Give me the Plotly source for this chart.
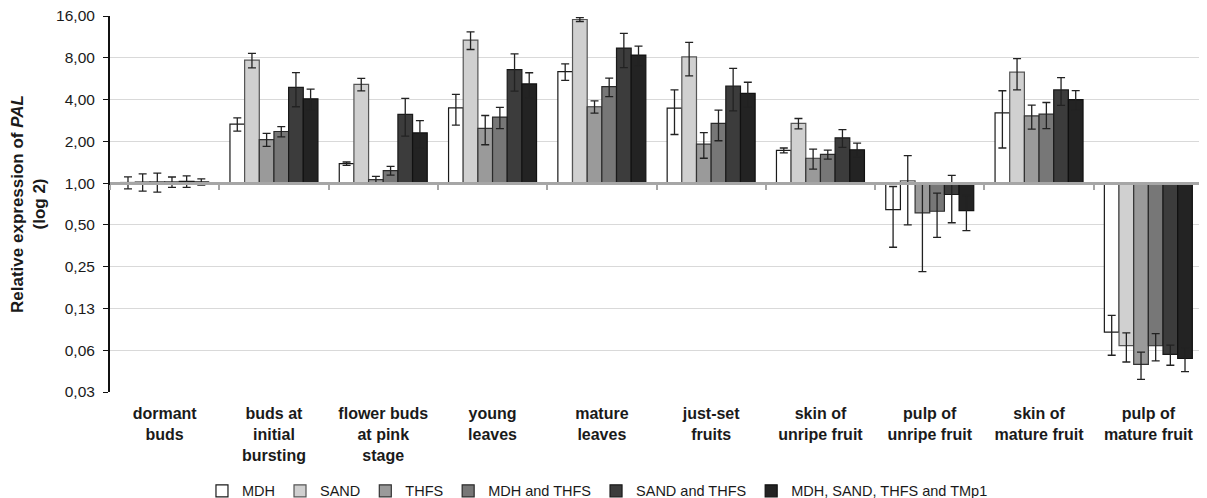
import plotly.graph_objects as go
import math

categories = ["dormant<br>buds", "buds at<br>initial<br>bursting", "flower buds<br>at pink<br>stage",
              "young<br>leaves", "mature<br>leaves", "just-set<br>fruits", "skin of<br>unripe fruit",
              "pulp of<br>unripe fruit", "skin of<br>mature fruit", "pulp of<br>mature fruit"]

series_names = ["MDH", "SAND", "THFS", "MDH and THFS", "SAND and THFS", "MDH, SAND, THFS and TMp1"]

mdh = [1.01, 2.66, 1.38, 3.49, 6.36, 3.47, 1.72, 0.645, 3.21, 0.0845]
mdh_err = [0.10, 0.29, 0.04, 0.87, 0.87, 1.23, 0.07, 0.30, 1.42, 0.027]
sand = [1.02, 7.69, 5.15, 10.73, 15.1, 8.12, 2.69, 1.04, 6.30, 0.0674]
sand_err = [0.145, 0.92, 0.53, 1.55, 0.5, 2.2, 0.23, 0.54, 1.6, 0.016]
thfs = [1.02, 2.06, 1.06, 2.48, 3.55, 1.91, 1.51, 0.61, 3.05, 0.0495]
thfs_err = [0.16, 0.22, 0.06, 0.59, 0.36, 0.40, 0.25, 0.38, 0.60, 0.011]
mdh_thfs = [1.02, 2.355, 1.23, 2.99, 4.95, 2.69, 1.61, 0.627, 3.14, 0.0673]
mdh_thfs_err = [0.087, 0.20, 0.09, 0.52, 0.75, 0.67, 0.12, 0.22, 0.67, 0.015]
sand_thfs = [1.03, 4.90, 3.13, 6.57, 9.39, 5.01, 2.12, 0.828, 4.69, 0.0584]
sand_thfs_err = [0.097, 1.35, 0.95, 1.97, 2.6, 1.7, 0.31, 0.31, 1.06, 0.0097]
all_four = [1.02, 4.05, 2.30, 5.18, 8.36, 4.43, 1.74, 0.634, 3.99, 0.0545]
all_four_err = [0.053, 0.70, 0.52, 1.06, 1.36, 0.90, 0.20, 0.18, 0.65, 0.0107]

tick_vals = [0.03125, 0.0625, 0.125, 0.25, 0.5, 1, 2, 4, 8, 16]
tick_text = ["0,03", "0,06", "0,13", "0,25", "0,50", "1,00", "2,00", "4,00", "8,00", "16,00"]

baseline = 1.0
values = [mdh, sand, thfs, mdh_thfs, sand_thfs, all_four]
errors = [mdh_err, sand_err, thfs_err, mdh_thfs_err, sand_thfs_err, all_four_err]
fills = ["#ffffff", "#d0d0d0", "#9a9a9a", "#777777", "#3c3c3c", "#232323"]
lines = ["#1a1a1a", "#555555", "#333333", "#2a2a2a", "#1a1a1a", "#111111"]

FONT = "Liberation Sans, Arial, sans-serif"

fig = go.Figure()
for name, vals, errs, fc, lc in zip(series_names, values, errors, fills, lines):
    fig.add_trace(go.Bar(
        name=name, x=categories,
        y=[v - baseline for v in vals], base=baseline,
        marker=dict(color=fc, line=dict(color=lc, width=1.2)),
        error_y=dict(type="data", array=errs, visible=True, color="#222222", thickness=1.3, width=4),
    ))

# invisible helper trace that carries the categories for the axis drawn at 1,00
fig.add_trace(go.Scatter(x=categories, y=[baseline] * len(categories), xaxis="x2", mode="markers",
                         marker=dict(opacity=0), showlegend=False, hoverinfo="skip"))

lo, hi = math.log10(tick_vals[0]), math.log10(tick_vals[-1])
pos_one = (math.log10(baseline) - lo) / (hi - lo)

fig.update_layout(
    width=1199, height=490,
    margin=dict(l=102, r=4, t=8, b=106, autoexpand=False),
    paper_bgcolor="white", plot_bgcolor="white",
    barmode="group", bargap=0.195, bargroupgap=0,
    font=dict(family=FONT, color="#1a1a1a"),
    showlegend=True,
    legend=dict(orientation="h", x=0.446, xanchor="center", y=-0.263, yanchor="middle",
                font=dict(size=14.5, family=FONT), traceorder="normal", itemclick=False),
    xaxis=dict(type="category", range=[-0.5, len(categories) - 0.5], showline=False, showgrid=False,
               ticks="", tickfont=dict(size=16, family=FONT, weight="bold", color="#1a1a1a"),
               ticklabelstandoff=10, zeroline=False, automargin=False),
    xaxis2=dict(type="category", overlaying="x", anchor="free", position=pos_one, side="bottom",
                range=[-0.5, len(categories) - 0.5], showline=True, linecolor="#a6a6a6", linewidth=2.5,
                ticks="outside", tickson="boundaries", ticklen=5, tickcolor="#a6a6a6", tickwidth=1.5,
                showticklabels=False, showgrid=False, zeroline=False, automargin=False),
    yaxis=dict(type="log", range=[lo, hi], tickvals=tick_vals, ticktext=tick_text,
               showgrid=True, gridcolor="#d9d9d9", gridwidth=1, automargin=False,
               showline=True, linecolor="#111111", linewidth=2, ticks="outside", ticklen=5,
               tickcolor="#111111", tickwidth=1, tickfont=dict(size=15.5, family=FONT, color="#1a1a1a"),
               ticklabelstandoff=5, ticklabeloverflow="allow", zeroline=False,
               title=dict(text="Relative expression of <i>PAL</i><br>(log 2)",
                          font=dict(size=17, family=FONT, weight="bold", color="#1a1a1a"), standoff=13)),
)

fig.write_html("out.html")
